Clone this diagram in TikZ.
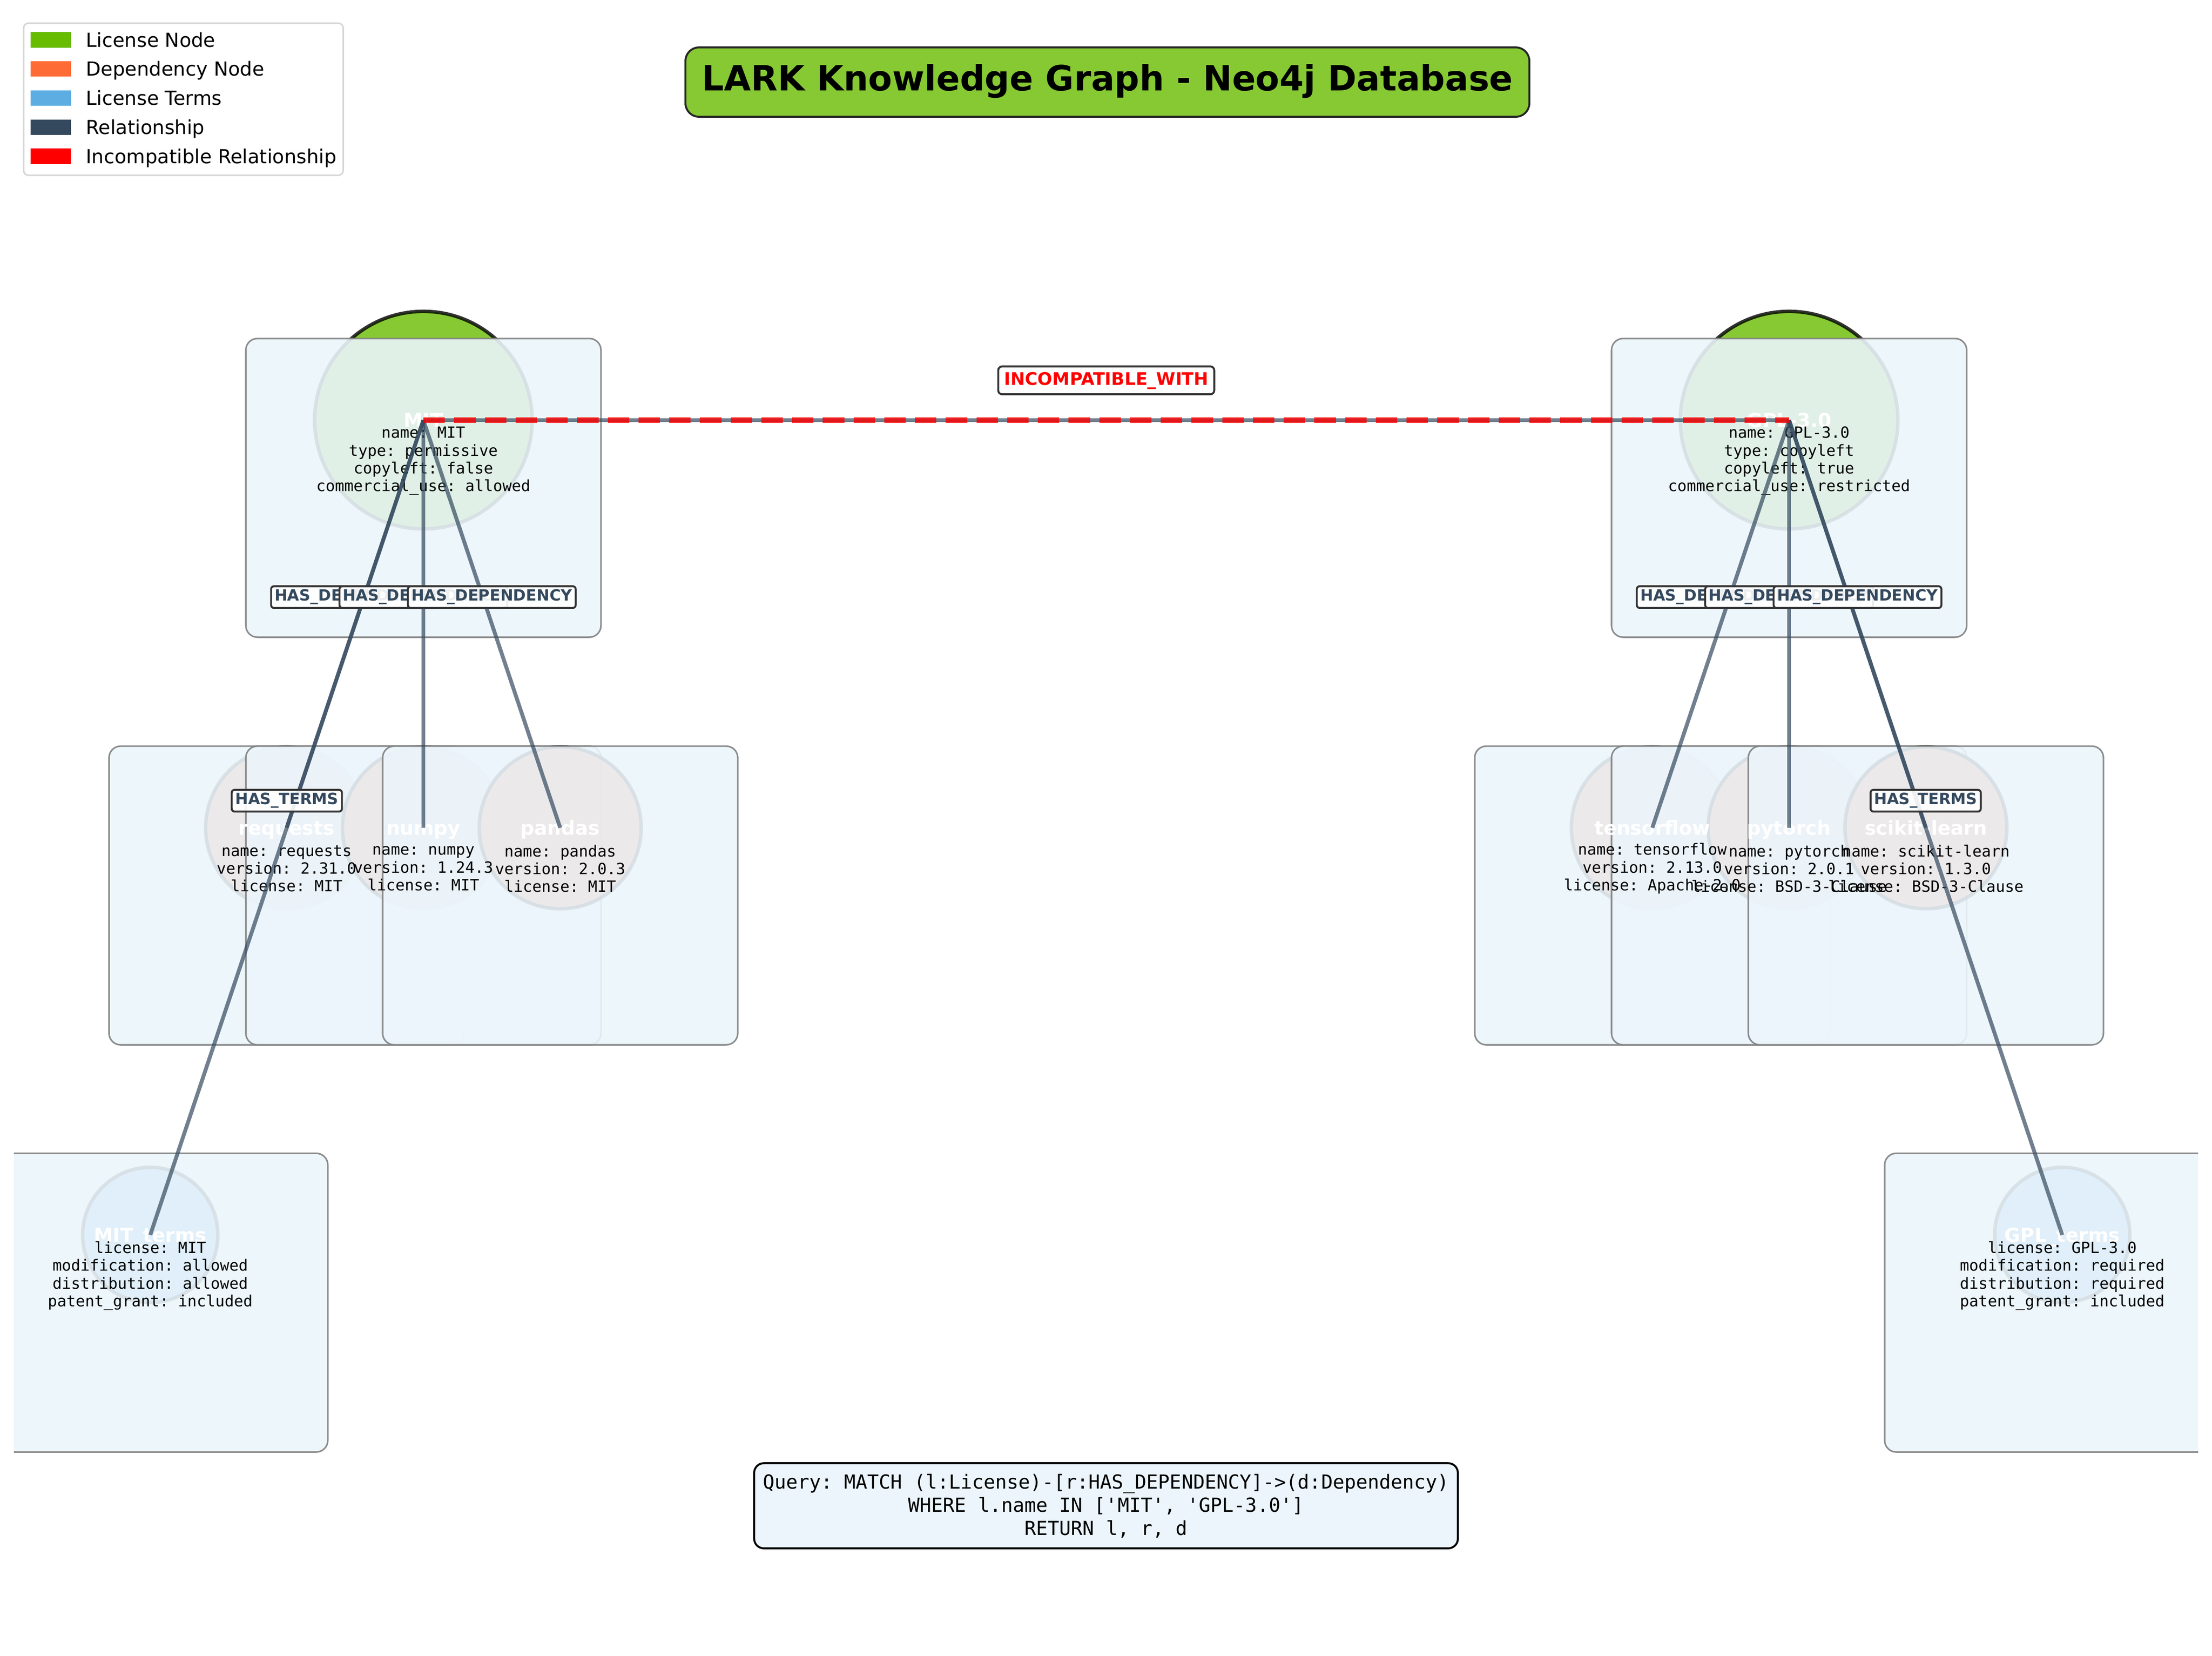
\documentclass[tikz,border=0pt]{standalone}
\usepackage{fontspec}
\setmainfont{DejaVu Sans}
\setmonofont{DejaVu Sans Mono}
\usetikzlibrary{
    calc,
    positioning
}
\definecolor{licensegreen}{HTML}{68BC00}
\definecolor{dependencyorange}{HTML}{FF6B35}
\definecolor{termsblue}{HTML}{5DADE2}
\definecolor{relationship}{HTML}{34495E}
\definecolor{boxblue}{HTML}{EBF5FB}
\tikzset{
    graph node/.style = {
        circle,
        inner sep = 0pt,
        draw = black,
        line width = 1.8pt,
        opacity = 0.8
    },
    license/.style = {graph node, fill = licensegreen, minimum size = 112.6pt},
    dependency/.style = {graph node, fill = dependencyorange, minimum size = 83.8pt},
    terms/.style = {graph node, fill = termsblue, minimum size = 70pt},
    info box/.style = {
        rectangle,
        rounded corners = 6pt,
        draw = gray,
        line width = 0.8pt,
        fill = boxblue,
        opacity = 0.9,
        minimum width = 183.8pt,
        minimum height = 154.6pt
    },
    node name/.style = {
        inner sep = 0pt,
        text = white,
        text height = 7.3pt,
        text depth = 0pt,
        font = \fontsize{10}{12}\selectfont\bfseries
    },
    properties/.style = {
        inner sep = 0pt,
        align = center,
        font = \fontsize{8}{9.2}\selectfont\ttfamily
    },
    rel/.style = {draw = relationship, line width = 2pt, opacity = 0.7},
    incompatible/.style = {
        draw = red,
        line width = 3pt,
        opacity = 0.8,
        dash pattern = on 11.1pt off 4.8pt
    },
    rel label/.style = {
        rectangle,
        rounded corners = 1.5pt,
        draw = black!80,
        line width = 1pt,
        fill = white,
        fill opacity = 0.9,
        text opacity = 1,
        text = relationship,
        inner xsep = 1.8pt,
        inner ysep = 1.6pt,
        text height = 5.84pt,
        text depth = 2.2pt,
        font = \fontsize{8}{9.6}\selectfont\bfseries
    },
    incompatible label/.style = {
        rectangle,
        rounded corners = 2pt,
        draw = black!80,
        line width = 1pt,
        fill = white,
        text = red,
        inner sep = 3pt,
        text height = 6.6pt,
        text depth = 1.8pt,
        font = \fontsize{9}{10.8}\selectfont\bfseries
    },
    title/.style = {
        rectangle,
        rounded corners = 7pt,
        draw = black!85,
        line width = 1pt,
        fill = licensegreen,
        fill opacity = 0.8,
        text opacity = 1,
        inner xsep = 8.5pt,
        inner ysep = 9.4pt,
        text height = 13.1pt,
        text depth = 4pt,
        font = \fontsize{18}{21.6}\selectfont\bfseries
    },
    query/.style = {
        rectangle,
        rounded corners = 5pt,
        draw = black,
        line width = 1pt,
        fill = boxblue,
        align = center,
        inner xsep = 4.5pt,
        inner ysep = 5.5pt,
        font = \fontsize{10}{12}\selectfont\ttfamily
    },
    legend frame/.style = {
        rectangle,
        rounded corners = 2.5pt,
        draw = black!16,
        line width = 0.8pt,
        fill = white,
        minimum width = 165.4pt,
        minimum height = 78.7pt
    },
    legend key/.style = {
        rectangle,
        inner sep = 0pt,
        minimum width = 20.9pt,
        minimum height = 8pt
    },
    legend text/.style = {
        inner sep = 0pt,
        text height = 7.3pt,
        text depth = 0pt,
        font = \fontsize{10}{12}\selectfont
    }
}

\begin{document}
\begin{tikzpicture}[x = 24pt, y = -24pt]
    \useasboundingbox (0,0) rectangle (47.70,35.70);
    \clip (0.30,0.29) rectangle (47.40,35.41);

    % circles, each with its property box
    \foreach \n/\s/\x/\y in {
        mit/license/9.13/9.06,
        gpl/license/38.58/9.06,
        requests/dependency/6.18/17.85,
        numpy/dependency/9.13/17.85,
        pandas/dependency/12.08/17.85,
        tensorflow/dependency/35.63/17.85,
        pytorch/dependency/38.58/17.85,
        scikit/dependency/41.53/17.85,
        mitterms/terms/3.24/26.63,
        gplterms/terms/44.47/26.63
    }{
        \node[\s] (\n) at (\x,\y) {};
        \node[info box] (\n-box) at ($(\n)+(0,1.46)$) {};
    }

    \foreach \n/\t in {mit/MIT, gpl/GPL-3.0, requests/requests, numpy/numpy,
        pandas/pandas, tensorflow/tensorflow, pytorch/pytorch,
        scikit/scikit-learn, mitterms/MIT\_terms, gplterms/GPL\_terms}
        \node[node name] (\n-name) at (\n) {\t};

    \node[properties] (mit-props) at ($(mit)+(0,0.88)$)
        {name: MIT\\type: permissive\\copyleft: false\\commercial\_use: allowed};
    \node[properties] (gpl-props) at ($(gpl)+(0,0.88)$)
        {name: GPL-3.0\\type: copyleft\\copyleft: true\\commercial\_use: restricted};
    \node[properties] (requests-props) at ($(requests)+(0,0.88)$)
        {name: requests\\version: 2.31.0\\license: MIT};
    \node[properties] (numpy-props) at ($(numpy)+(0,0.88)$)
        {name: numpy\\version: 1.24.3\\license: MIT};
    \node[properties] (pandas-props) at ($(pandas)+(0,0.88)$)
        {name: pandas\\version: 2.0.3\\license: MIT};
    \node[properties] (tensorflow-props) at ($(tensorflow)+(0,0.88)$)
        {name: tensorflow\\version: 2.13.0\\license: Apache-2.0};
    \node[properties] (pytorch-props) at ($(pytorch)+(0,0.88)$)
        {name: pytorch\\version: 2.0.1\\license: BSD-3-Clause};
    \node[properties] (scikit-props) at ($(scikit)+(0,0.88)$)
        {name: scikit-learn\\version: 1.3.0\\license: BSD-3-Clause};
    \node[properties] (mitterms-props) at ($(mitterms)+(0,0.88)$)
        {license: MIT\\modification: allowed\\distribution: allowed\\patent\_grant: included};
    \node[properties] (gplterms-props) at ($(gplterms)+(0,0.88)$)
        {license: GPL-3.0\\modification: required\\distribution: required\\patent\_grant: included};

    % relationships
    \foreach \a/\b/\c in {mit/requests/d1, mit/numpy/d2, mit/pandas/d3,
        gpl/tensorflow/d4, gpl/pytorch/d5, gpl/scikit/d6}
        \draw[rel] (\a.center) -- coordinate[midway] (\c) (\b.center);
    \draw[rel] (mit.center) -- coordinate[midway] (t1) (mitterms.center);
    \draw[rel] (gpl.center) -- coordinate[midway] (t2) (gplterms.center);
    \draw[rel] (mit.center) -- coordinate[midway] (x1) (gpl.center);
    \draw[incompatible] (mit.center) -- (gpl.center);

    \foreach \c in {d1, d2, d3, d4, d5, d6}
        \node[rel label] (\c-label) at ([yshift = 13.9pt]\c) {HAS\_DEPENDENCY};
    \node[rel label] (t1-label) at ([yshift = 13.9pt]t1) {HAS\_TERMS};
    \node[rel label] (t2-label) at ([yshift = 13.9pt]t2) {HAS\_TERMS};
    \node[incompatible label] (x1-label) at ([yshift = 20.6pt]x1) {INCOMPATIBLE\_WITH};

    \node[title] (title) at (23.88,1.77) {LARK Knowledge Graph - Neo4j Database};
    \node[query] (query) at (23.85,32.47)
        {Query: MATCH (l:License)-[r:HAS\_DEPENDENCY]->(d:Dependency)\\
         WHERE l.name IN ['MIT', 'GPL-3.0']\\
         RETURN l, r, d};

    % legend
    \node[legend frame] (legend) at (3.955,2.14) {};
    \foreach \c/\t [count = \i] in {licensegreen/License Node,
        dependencyorange/Dependency Node, termsblue/License Terms,
        relationship/Relationship, red/Incompatible Relationship} {
        \node[legend key, fill = \c] (key\i) at (1.095, {0.86 + 0.6275*(\i - 1)}) {};
        \node[legend text, right = 7.4pt of key\i] (entry\i) {\t};
    }
\end{tikzpicture}
\end{document}
